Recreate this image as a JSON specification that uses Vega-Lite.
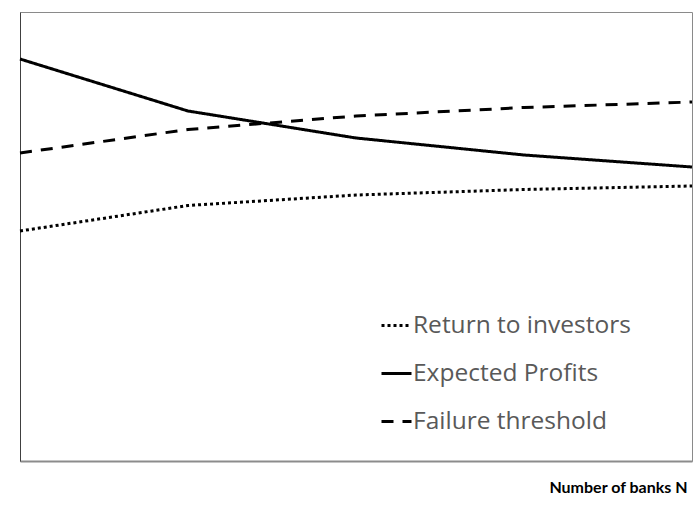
{
  "$schema": "https://vega.github.io/schema/vega-lite/v6.json",
  "width": 672,
  "height": 449,
  "autosize": {"type": "none"},
  "padding": {"left": 20, "top": 12, "right": 3, "bottom": 45},
  "background": "white",
  "config": {
    "view": {"stroke": "#8a8a8a", "strokeWidth": 1},
    "font": "Lato"
  },
  "data": {
    "values": [
      {"N": 1, "series": "Expected Profits", "value": 402},
      {"N": 2, "series": "Expected Profits", "value": 350},
      {"N": 3, "series": "Expected Profits", "value": 323},
      {"N": 4, "series": "Expected Profits", "value": 306},
      {"N": 5, "series": "Expected Profits", "value": 294},
      {"N": 1, "series": "Failure threshold", "value": 308},
      {"N": 2, "series": "Failure threshold", "value": 331.5},
      {"N": 3, "series": "Failure threshold", "value": 345},
      {"N": 4, "series": "Failure threshold", "value": 353.5},
      {"N": 5, "series": "Failure threshold", "value": 359},
      {"N": 1, "series": "Return to investors", "value": 230},
      {"N": 2, "series": "Return to investors", "value": 255.5},
      {"N": 3, "series": "Return to investors", "value": 266},
      {"N": 4, "series": "Return to investors", "value": 271.5},
      {"N": 5, "series": "Return to investors", "value": 275}
    ]
  },
  "mark": {"type": "line", "color": "black", "strokeWidth": 3, "strokeCap": "butt"},
  "encoding": {
    "x": {
      "field": "N",
      "type": "quantitative",
      "scale": {"domain": [1, 5], "nice": false, "zero": false},
      "axis": {
        "title": "Number of banks N",
        "labels": false,
        "ticks": false,
        "grid": false,
        "domainColor": "#8c8c8c",
        "domainWidth": 2,
        "titleFont": "Lato",
        "titleFontSize": 16,
        "titleFontWeight": "bold",
        "titleColor": "black",
        "titleAlign": "right",
        "titleAnchor": "end",
        "titleX": 667,
        "titleY": 26,
        "titleBaseline": "middle"
      }
    },
    "y": {
      "field": "value",
      "type": "quantitative",
      "scale": {"domain": [0, 449], "nice": false},
      "axis": {
        "title": null,
        "labels": false,
        "ticks": false,
        "grid": false,
        "domainColor": "#404040",
        "domainWidth": 1
      }
    },
    "strokeDash": {
      "field": "series",
      "type": "nominal",
      "scale": {
        "domain": ["Return to investors", "Expected Profits", "Failure threshold"],
        "range": [[3, 3], [1, 0], [12, 9]]
      },
      "legend": {
        "title": null,
        "orient": "none",
        "legendX": 360,
        "legendY": 297,
        "symbolType": "stroke",
        "symbolSize": 900,
        "symbolStrokeWidth": 3,
        "symbolStrokeColor": "black",
        "labelFont": "Open Sans",
        "labelFontSize": 24.5,
        "labelColor": "#595959",
        "labelLimit": 400,
        "labelOffset": 0,
        "rowPadding": 20,
        "padding": 0
      }
    }
  }
}
